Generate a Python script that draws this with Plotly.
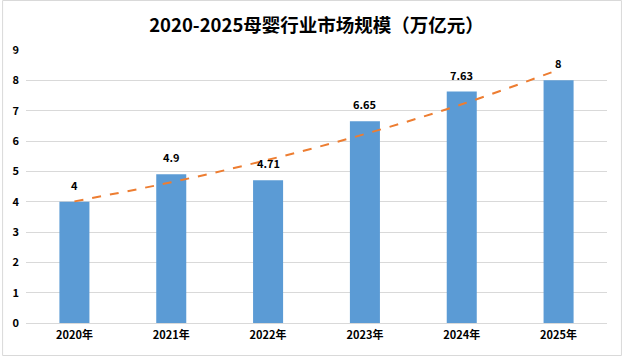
import plotly.graph_objects as go

years = ["2020年", "2021年", "2022年", "2023年", "2024年", "2025年"]
market_size = [4, 4.9, 4.71, 6.65, 7.63, 8]
trend_values = [4.01, 4.64, 5.38, 6.23, 7.21, 8.35]  # Excel exponential trendline
title_text = "2020-2025母婴行业市场规模（万亿元）"

W, H = 622, 356
ml, mr, mt, mb = 24, 15, 50, 33

fig = go.Figure()
fig.add_trace(go.Bar(
    x=years, y=market_size,
    marker=dict(color="#5B9BD5", line=dict(width=0)),
    hoverinfo="skip",
))
fig.add_trace(go.Scatter(
    x=years, y=trend_values, mode="lines",
    line=dict(color="#ED7D31", width=2, dash="dash", shape="spline"),
    hoverinfo="skip",
))

for yr, v in zip(years, market_size):
    fig.add_annotation(x=yr, y=v, text=f"{v:g}", showarrow=False,
                       yanchor="bottom", yshift=7,
                       font=dict(family="Noto Sans CJK SC", size=11, color="#000000", weight="bold"))

pw = W - ml - mr
ph = H - mt - mb
fig.add_shape(type="rect", xref="paper", yref="paper",
              x0=-(ml - 0.5) / pw, x1=1 + (mr - 0.5) / pw,
              y0=-(mb - 0.5) / ph, y1=1 + (mt - 0.5) / ph,
              line=dict(color="#D9D9D9", width=1), layer="below")

fig.update_layout(
    width=W, height=H,
    margin=dict(l=ml, r=mr, t=mt, b=mb, pad=0),
    paper_bgcolor="white", plot_bgcolor="white",
    showlegend=False,
    bargap=0.69,
    title=dict(text=title_text, x=0.5, xref="paper", xanchor="center",
               y=1 - 26 / H, yanchor="middle",
               font=dict(family="Noto Sans CJK SC", size=18.5, color="#000000", weight="bold")),
    xaxis=dict(showgrid=False, showline=True, linecolor="#D9D9D9", linewidth=1,
               ticks="", tickfont=dict(family="Noto Sans CJK SC", size=11, color="#000000", weight="bold"),
               ticklabelstandoff=2),
    yaxis=dict(range=[0, 9], dtick=1, showgrid=True, gridcolor="#D9D9D9", gridwidth=1,
               zeroline=False, showline=False, ticks="",
               tickfont=dict(family="Noto Sans CJK SC", size=11, color="#000000", weight="bold"),
               ticklabelstandoff=6),
)

fig.write_html("out.html", config={"displayModeBar": False},
               post_script="document.body.style.margin='0';")
